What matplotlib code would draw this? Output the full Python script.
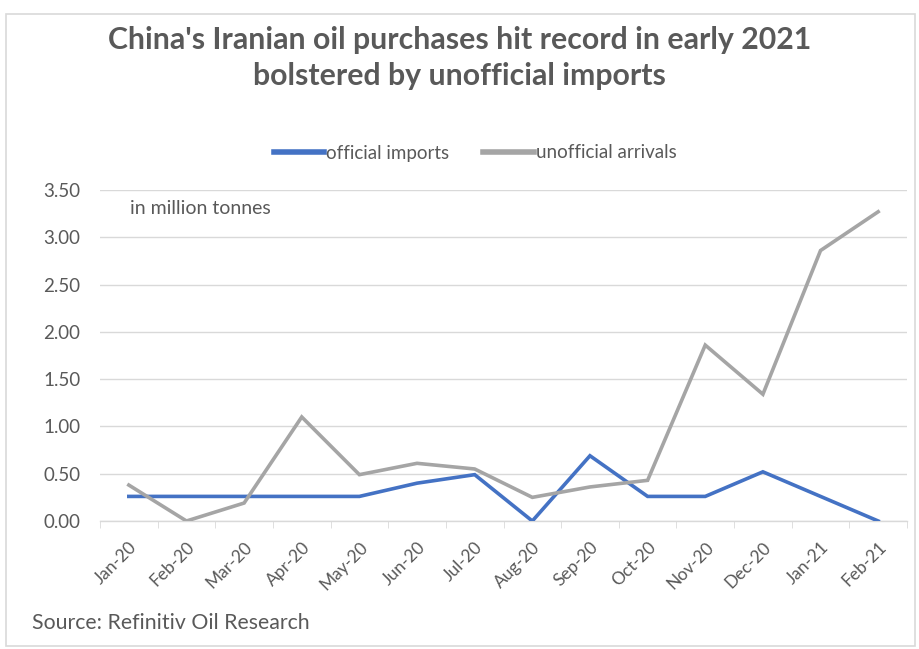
import numpy as np
import matplotlib.pyplot as plt
from matplotlib.patches import Rectangle

months = ["Jan-20", "Feb-20", "Mar-20", "Apr-20", "May-20", "Jun-20", "Jul-20",
          "Aug-20", "Sep-20", "Oct-20", "Nov-20", "Dec-20", "Jan-21", "Feb-21"]
official = [0.26, 0.26, 0.26, 0.26, 0.26, 0.40, 0.49, 0.00, 0.69, 0.26, 0.26, 0.52, 0.26, 0.00]
unofficial = [0.38, 0.00, 0.19, 1.10, 0.49, 0.61, 0.55, 0.25, 0.36, 0.43, 1.86, 1.34, 2.86, 3.27]

font = "Lato"
txt = "#595959"
plt.rcParams["font.family"] = [font, "DejaVu Sans"]

fig = plt.figure(figsize=(9.19, 6.49), dpi=100)
fig.patches.append(Rectangle((6/919, 0.005), 909/919, 1 - 0.005 - 14/649,
                             transform=fig.transFigure, fill=False,
                             edgecolor="#d9d9d9", lw=1.2))

ax = fig.add_axes([100/919, 1 - 521/649, 807/919, 331/649])
x = np.arange(len(months))
ax.plot(x, official, color="#4472C4", lw=2.6, label="official imports",
        solid_joinstyle="miter", zorder=3)
ax.plot(x, unofficial, color="#A5A5A5", lw=2.6, label="unofficial arrivals",
        solid_joinstyle="miter", zorder=3)

ax.set_xlim(-0.5, len(months) - 0.5)
ax.set_ylim(0, 3.5)
ax.set_yticks(np.arange(0, 3.51, 0.5))
ax.set_yticklabels([f"{v:.2f}" for v in np.arange(0, 3.51, 0.5)])
ax.yaxis.grid(True, color="#d9d9d9", lw=1)
ax.set_axisbelow(True)
for s in ["top", "right", "left"]:
    ax.spines[s].set_visible(False)
ax.spines["bottom"].set_color("#d9d9d9")
ax.spines["bottom"].set_linewidth(1)

ax.set_xticks(x)
ax.set_xticklabels(months, rotation=45, ha="right", rotation_mode="anchor")
ax.set_xticks(np.arange(-0.5, len(months), 1), minor=True)
ax.tick_params(axis="x", which="major", length=0, pad=13, labelsize=12.5, labelcolor=txt)
ax.tick_params(axis="x", which="minor", length=5, color="#d9d9d9")
ax.tick_params(axis="y", length=0, pad=14, labelsize=13.5, labelcolor=txt)

ax.text(0.037, 0.945, "in million tonnes", transform=ax.transAxes,
        fontsize=14, color=txt, va="center")

fig.text(0.5, 1 - 40/649, "China's Iranian oil purchases hit record in early 2021",
         ha="center", va="center", fontsize=21.8, fontweight="bold", color=txt)
fig.text(0.5, 1 - 76/649, "bolstered by unofficial imports",
         ha="center", va="center", fontsize=21.8, fontweight="bold", color=txt)

leg = fig.legend(loc="center", bbox_to_anchor=(475/919, 1 - 153/649), ncol=2,
                 frameon=False, fontsize=13.5, handlelength=2.7, handletextpad=0.1,
                 columnspacing=1.8)
for t in leg.get_texts():
    t.set_color(txt)
for h in leg.get_lines():
    h.set_linewidth(4)

fig.text(32/919, 1 - 623/649, "Source: Refinitiv Oil Research", fontsize=15.3,
         color=txt, va="center")

fig.savefig("out.png", dpi=100)
